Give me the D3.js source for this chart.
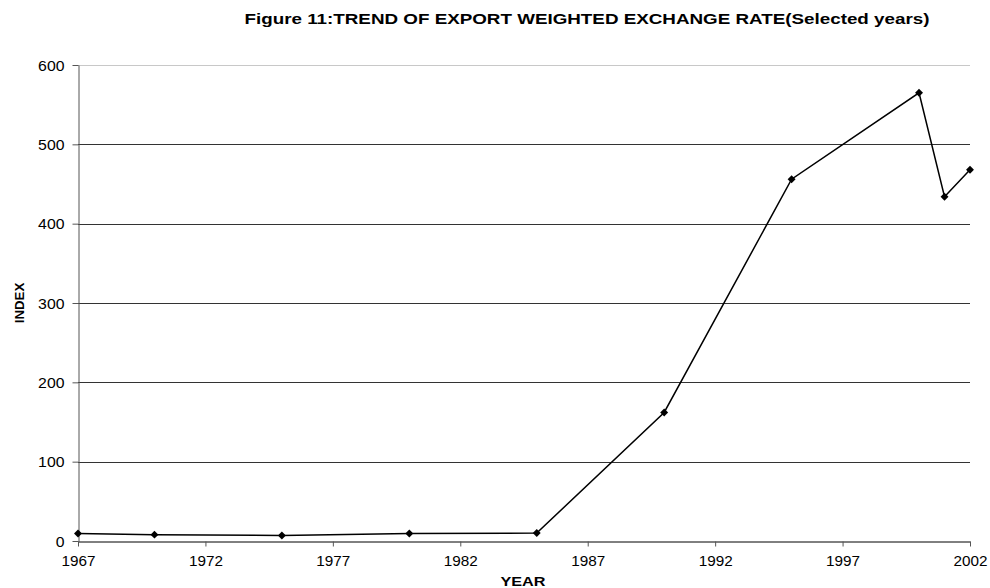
<!DOCTYPE html>
<html>
<head>
<meta charset="utf-8">
<script src="https://cdn.jsdelivr.net/npm/d3@7"></script>
<style>
  body { margin: 0; background: #fff; }
  svg { display: block; font-family: "Liberation Sans", Arial, sans-serif; }
</style>
</head>
<body>
<svg id="chart" width="990" height="588"></svg>
<script>
// Export weighted exchange rate index, selected years
const years = [1967, 1970, 1975, 1980, 1985, 1990, 1995, 2000, 2001, 2002];
const index = [9.5, 8, 7, 9.5, 10, 162, 456, 565, 434, 468];
const xTicks = [1967, 1972, 1977, 1982, 1987, 1992, 1997, 2002];
const yTicks = [0, 100, 200, 300, 400, 500, 600];

const svg = d3.select("#chart");
const margin = { left: 78, right: 20, top: 65, bottom: 47 };
const W = 990, H = 588;
const FONT = "'Liberation Sans', Arial, sans-serif";

const x = d3.scaleLinear().domain([1967, 2002]).range([margin.left, W - margin.right]);
const y = d3.scaleLinear().domain([0, 600]).range([H - margin.bottom, margin.top]);

// horizontal gridlines
svg.append("g")
  .selectAll("line")
  .data(yTicks.filter(d => d > 0))
  .join("line")
  .attr("x1", margin.left).attr("x2", W - margin.right)
  .attr("y1", d => Math.round(y(d)) + 0.5).attr("y2", d => Math.round(y(d)) + 0.5)
  .attr("stroke", d => d === 600 ? "#c8c8c8" : "#333")
  .attr("stroke-width", 1);

// y axis
const yAxis = svg.append("g")
  .attr("transform", `translate(${margin.left + 0.5},0)`)
  .call(d3.axisLeft(y).tickValues(yTicks).tickSize(6).tickPadding(8).tickSizeOuter(0));
yAxis.select(".domain").attr("stroke", "#555");
yAxis.selectAll(".tick line").attr("stroke", "#555");
yAxis.selectAll("text")
  .attr("font-size", 14).attr("fill", "#000").attr("font-family", FONT)
  .attr("dy", "0.36em")
  .attr("textLength", d => String(d).length * 8.8)
  .attr("lengthAdjust", "spacingAndGlyphs");

// x axis
const xAxis = svg.append("g")
  .attr("transform", `translate(0,${Math.round(y(0)) + 0.5})`)
  .call(d3.axisBottom(x).tickValues(xTicks).tickFormat(d3.format("d")).tickSize(5).tickPadding(10).tickSizeOuter(0));
xAxis.select(".domain").attr("stroke", "#000");
xAxis.selectAll(".tick line").attr("stroke", "#555");
xAxis.selectAll("text")
  .attr("font-size", 14).attr("fill", "#000").attr("font-family", FONT)
  .attr("y", 24).attr("dy", 0)
  .attr("textLength", 34)
  .attr("lengthAdjust", "spacingAndGlyphs");

// series line
const pts = years.map((yr, i) => [yr, index[i]]);
svg.append("path")
  .datum(pts)
  .attr("fill", "none")
  .attr("stroke", "#000")
  .attr("stroke-width", 1.5)
  .attr("d", d3.line().x(d => x(d[0])).y(d => y(d[1])));

// diamond markers
svg.append("g")
  .selectAll("path")
  .data(pts)
  .join("path")
  .attr("transform", d => `translate(${x(d[0])},${y(d[1])})`)
  .attr("d", d3.symbol(d3.symbolDiamond2, 40))
  .attr("fill", "#000");

// title and axis labels
svg.append("text")
  .attr("x", 587).attr("y", 24)
  .attr("text-anchor", "middle")
  .attr("font-size", 15).attr("font-weight", "bold")
  .attr("textLength", 685).attr("lengthAdjust", "spacingAndGlyphs")
  .text("Figure 11:TREND OF EXPORT WEIGHTED EXCHANGE RATE(Selected years)");

svg.append("text")
  .attr("x", 523).attr("y", 586)
  .attr("text-anchor", "middle")
  .attr("font-size", 12.5).attr("font-weight", "bold")
  .attr("textLength", 45).attr("lengthAdjust", "spacingAndGlyphs")
  .text("YEAR");

svg.append("text")
  .attr("transform", "translate(24,303) rotate(-90)")
  .attr("text-anchor", "middle")
  .attr("font-size", 13.3).attr("font-weight", "bold")
  .attr("textLength", 40.6).attr("lengthAdjust", "spacingAndGlyphs")
  .text("INDEX");
</script>
</body>
</html>
